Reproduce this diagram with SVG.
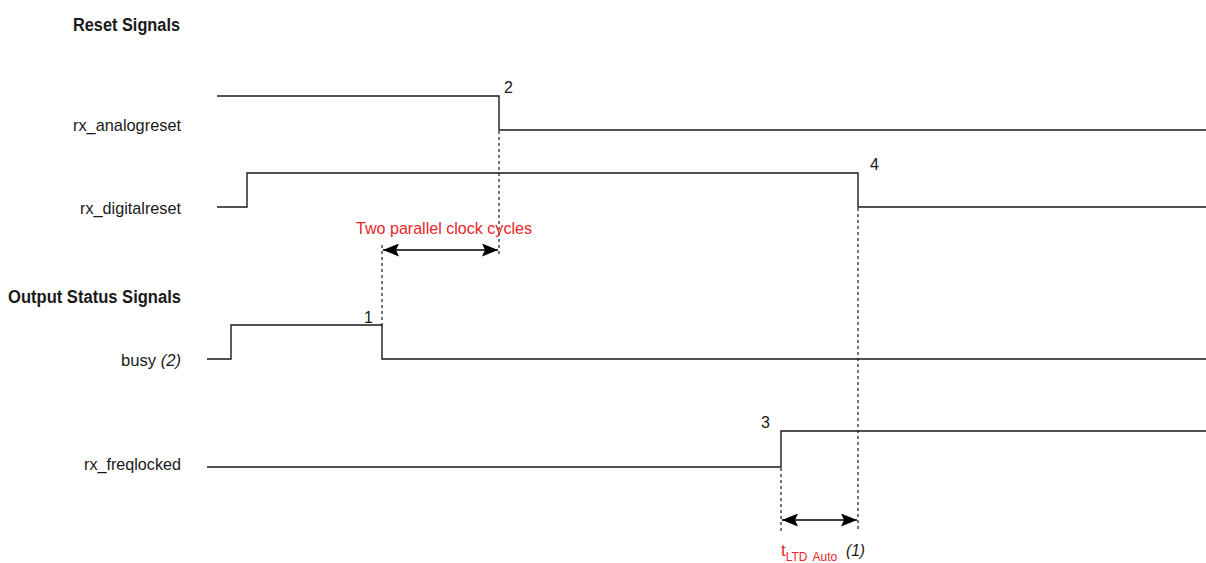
<svg xmlns="http://www.w3.org/2000/svg" width="1206" height="563" viewBox="0 0 1206 563">
<style>
text{font-family:"Liberation Sans",Arial,sans-serif;fill:#1a1a1a}
.h{font-weight:bold;font-size:18px}
.l{font-size:17px}
.n{font-size:16px}
.r{fill:#e8262a;font-size:17px}
.sig{fill:none;stroke:#1a1a1a;stroke-width:1.4}
.dash{fill:none;stroke:#1a1a1a;stroke-width:1.2;stroke-dasharray:3,3}
.dim{fill:none;stroke:#000;stroke-width:1.6;marker-start:url(#a);marker-end:url(#a)}
</style>
<defs>
<marker id="a" viewBox="0 0 16 13" refX="16" refY="6.5" markerWidth="16" markerHeight="13" markerUnits="userSpaceOnUse" orient="auto-start-reverse">
<path d="M0,0 L16,6.5 L0,13 L3,6.5 Z" fill="#000"/>
</marker>
</defs>
<g id="headings">
<text class="h" x="73" y="31" textLength="107" lengthAdjust="spacingAndGlyphs">Reset Signals</text>
<text class="h" x="8" y="303" textLength="173" lengthAdjust="spacingAndGlyphs">Output Status Signals</text>
</g>
<g id="rx_analogreset">
<text class="l" x="73" y="131" textLength="108" lengthAdjust="spacingAndGlyphs">rx_analogreset</text>
<path class="sig" d="M217,96 H499 V130 H1206"/>
<text class="n" x="504" y="93">2</text>
</g>
<g id="rx_digitalreset">
<text class="l" x="80" y="214" textLength="101" lengthAdjust="spacingAndGlyphs">rx_digitalreset</text>
<path class="sig" d="M217,207 H247 V173 H858 V207 H1206"/>
<text class="n" x="870" y="170">4</text>
</g>
<g id="busy">
<text class="l" x="121" y="366" textLength="60" lengthAdjust="spacingAndGlyphs">busy <tspan font-style="italic">(2)</tspan></text>
<path class="sig" d="M207,359 H231 V325 H382 V359 H1206"/>
<text class="n" x="364" y="323">1</text>
</g>
<g id="rx_freqlocked">
<text class="l" x="84" y="470" textLength="97" lengthAdjust="spacingAndGlyphs">rx_freqlocked</text>
<path class="sig" d="M207,467 H781 V431 H1206"/>
<text class="n" x="761" y="428">3</text>
</g>
<g id="connectors">
<path class="dash" d="M499,131 V257"/>
<path class="dash" d="M382,245 V325"/>
<path class="dash" d="M858,208 V532"/>
<path class="dash" d="M781,468 V532"/>
<path class="dim" d="M383,250 H498"/>
<path class="dim" d="M782,520 H857"/>
</g>
<g id="labels">
<text class="r" x="781" y="556">t<tspan font-size="12" dy="5">LTD</tspan><tspan font-size="12" dx="5">Auto</tspan></text>
<text class="r" x="356" y="234" textLength="176" lengthAdjust="spacingAndGlyphs">Two parallel clock cycles</text>
<text class="l" x="846" y="556" font-style="italic" textLength="19" lengthAdjust="spacingAndGlyphs">(1)</text>
</g>
</svg>
